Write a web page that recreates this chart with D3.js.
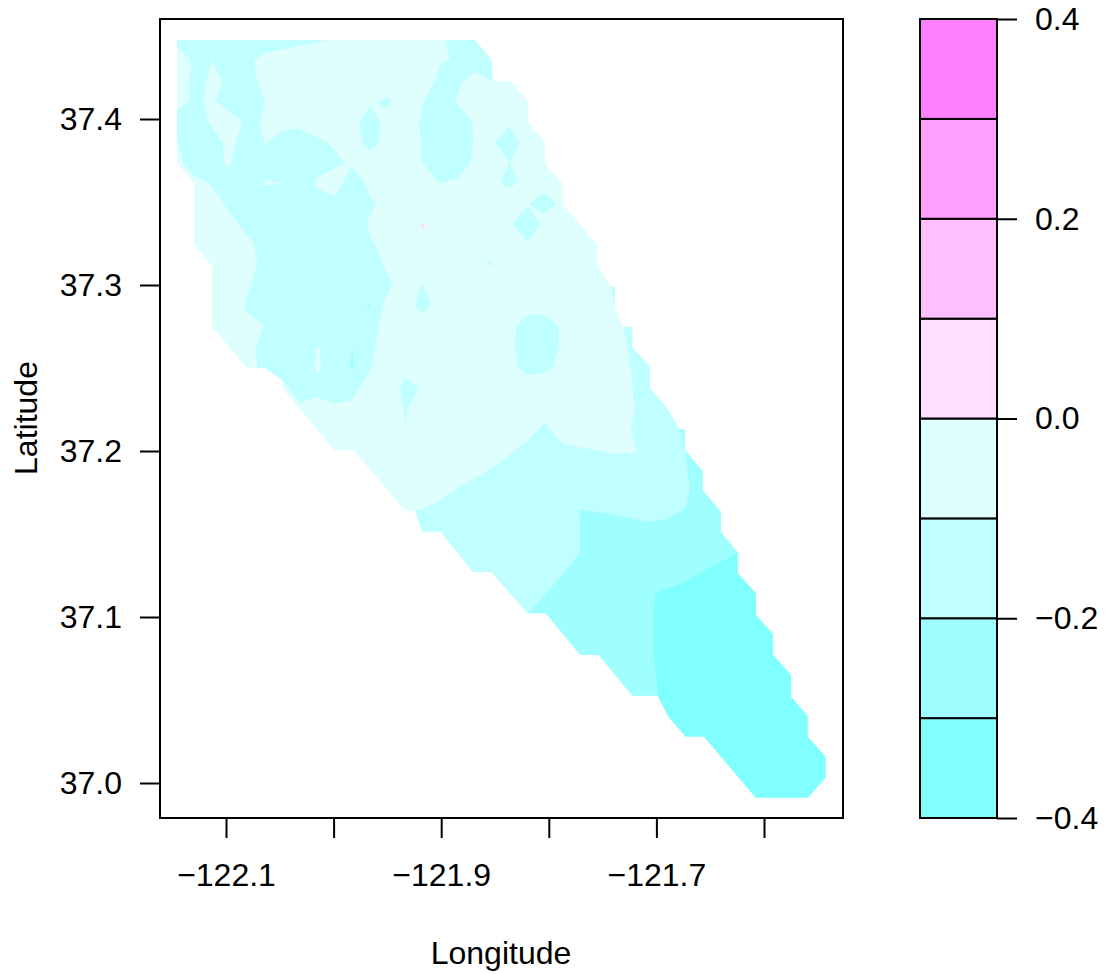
<!DOCTYPE html>
<html>
<head>
<meta charset="utf-8">
<title>Contour</title>
<script src="https://cdn.jsdelivr.net/npm/d3@7"></script>
<style>
  html, body { margin: 0; padding: 0; background: #fff; }
  svg { display: block; }
  text { font-family: "Liberation Sans", Arial, sans-serif; fill: #000; }
</style>
</head>
<body>
<div id="chart"></div>
<script>
// colour bands of the legend, low to high
const breaks = [-0.4, -0.3, -0.2, -0.1, 0, 0.1, 0.2, 0.3, 0.4];
const bandColors = ["#80ffff", "#9fffff", "#bfffff", "#dfffff", "#ffdfff", "#ffbfff", "#ff9fff", "#ff80ff"];
const legendTicks = [-0.4, -0.2, 0, 0.2, 0.4];
const lonTicks = [-122.1, -122.0, -121.9, -121.8, -121.7, -121.6];
const lonLabels = [-122.1, -121.9, -121.7];
const latTicks = [37.0, 37.1, 37.2, 37.3, 37.4];

// region outline, band -0.1..0
const outlineBand = [[-122.1455,37.4476],[-121.8686,37.4476],[-121.8531,37.4355],[-121.8521,37.4231],[-121.8361,37.4231],[-121.8196,37.4108],[-121.819,37.3978],[-121.8035,37.386],[-121.8035,37.3733],[-121.7875,37.3613],[-121.7865,37.3482],[-121.7546,37.3241],[-121.7546,37.312],[-121.7425,37.299],[-121.7385,37.299],[-121.7385,37.2869],[-121.7313,37.2749],[-121.7224,37.2749],[-121.7224,37.2625],[-121.7059,37.2504],[-121.7059,37.2378],[-121.6899,37.2257],[-121.6787,37.2131],[-121.6734,37.2131],[-121.6734,37.2006],[-121.657,37.1881],[-121.657,37.1765],[-121.64,37.1634],[-121.64,37.151],[-121.6244,37.139],[-121.6244,37.1263],[-121.6074,37.1143],[-121.6074,37.1012],[-121.5916,37.0898],[-121.5916,37.0771],[-121.5749,37.0651],[-121.5749,37.052],[-121.5594,37.0404],[-121.5594,37.0279],[-121.5427,37.0158],[-121.5427,37.0032],[-121.5594,36.9911],[-121.6077,36.9911],[-121.6558,37.0279],[-121.6728,37.0279],[-121.6889,37.0399],[-121.6988,37.0526],[-121.7224,37.0526],[-121.7536,37.0771],[-121.7707,37.0771],[-121.8029,37.1022],[-121.82,37.1022],[-121.8361,37.1143],[-121.8532,37.1271],[-121.8704,37.1271],[-121.9005,37.1514],[-121.9176,37.1514],[-121.9244,37.164],[-121.9336,37.164],[-121.9817,37.2006],[-121.9994,37.2006],[-122.0477,37.2378],[-122.0477,37.2428],[-122.0638,37.2502],[-122.0808,37.2502],[-122.113,37.2749],[-122.113,37.311],[-122.1297,37.3247],[-122.1297,37.3616],[-122.1455,37.3733]];

// band -0.2..-0.1
const northWest = [[-122.1455,37.4476],[-122.0049,37.4476],[-122.0638,37.4399],[-122.0737,37.4351],[-122.0715,37.4245],[-122.0638,37.4104],[-122.0691,37.3984],[-122.0638,37.3843],[-122.0473,37.393],[-122.0328,37.3942],[-122.0096,37.3873],[-122.0018,37.3833],[-121.9894,37.3733],[-122.0166,37.3643],[-122.0173,37.3602],[-122.0151,37.3583],[-121.9987,37.3536],[-121.9832,37.3713],[-121.9717,37.3619],[-121.9662,37.3532],[-121.9609,37.3492],[-121.9678,37.3402],[-121.9687,37.3351],[-121.9631,37.3261],[-121.9476,37.303],[-121.9451,37.3],[-121.9497,37.296],[-121.9544,37.288],[-121.9631,37.2568],[-121.9646,37.2502],[-121.9832,37.2307],[-121.9994,37.2283],[-122.0157,37.2327],[-122.0312,37.2291],[-122.0477,37.2428],[-122.0638,37.2502],[-122.0709,37.2502],[-122.0724,37.2625],[-122.0647,37.2753],[-122.0802,37.2839],[-122.0823,37.288],[-122.0709,37.312],[-122.074,37.3247],[-122.0979,37.3452],[-122.1155,37.3613],[-122.1288,37.3652],[-122.1397,37.3729],[-122.1455,37.3884],[-122.1455,37.4054],[-122.1341,37.4108],[-122.1328,37.4351],[-122.1455,37.444]];
const northEast = [[-121.8958,37.4476],[-121.8918,37.4355],[-121.9011,37.4325],[-121.9058,37.4235],[-121.916,37.4104],[-121.9204,37.3984],[-121.9176,37.3737],[-121.9011,37.3613],[-121.885,37.3643],[-121.8726,37.3737],[-121.8702,37.3863],[-121.8711,37.3984],[-121.8872,37.4108],[-121.8804,37.4225],[-121.8686,37.4285],[-121.8521,37.4231],[-121.8531,37.4355],[-121.8686,37.4476]];
const south = [[-121.9244,37.164],[-121.9181,37.1649],[-121.9005,37.1705],[-121.8841,37.1779],[-121.8553,37.1886],[-121.8298,37.201],[-121.8196,37.2066],[-121.8035,37.2173],[-121.7958,37.2107],[-121.7871,37.2042],[-121.7401,37.1986],[-121.7215,37.1986],[-121.719,37.2006],[-121.7236,37.2127],[-121.7205,37.2257],[-121.7224,37.2428],[-121.7267,37.2619],[-121.7313,37.2749],[-121.7224,37.2749],[-121.7224,37.2625],[-121.7059,37.2504],[-121.7059,37.2378],[-121.6899,37.2257],[-121.6787,37.2131],[-121.6734,37.2006],[-121.6688,37.1765],[-121.6734,37.1655],[-121.6889,37.1595],[-121.7059,37.1574],[-121.754,37.1634],[-121.7717,37.1649],[-121.771,37.139],[-121.7875,37.1253],[-121.819,37.1022],[-121.82,37.1022],[-121.8361,37.1143],[-121.8532,37.1271],[-121.8704,37.1271],[-121.9005,37.1514],[-121.9176,37.1514]];
const eastSliver = [[-121.7425,37.299],[-121.7385,37.299],[-121.7385,37.2869]];
const isleA = [[-121.9655,37.408],[-121.9569,37.3984],[-121.9575,37.3857],[-121.9662,37.3807],[-121.9739,37.3863],[-121.9755,37.3984]];
const isleB = [[-121.9599,37.4104],[-121.9501,37.4134],[-121.9464,37.4104],[-121.9507,37.406]];
const isleC = [[-121.8367,37.3954],[-121.8268,37.3857],[-121.8361,37.3743],[-121.8289,37.3616],[-121.8367,37.3583],[-121.8444,37.3613],[-121.8367,37.3743],[-121.85,37.3857]];
const isleD = [[-121.8042,37.3556],[-121.7933,37.3492],[-121.8042,37.3426],[-121.8181,37.3486]];
const isleE = [[-121.8196,37.348],[-121.8082,37.3367],[-121.8196,37.3261],[-121.8339,37.3367]];
const isleF = [[-121.854,37.3155],[-121.8519,37.311],[-121.8562,37.3125]];
const isleG = [[-121.8702,37.3492],[-121.8665,37.3492],[-121.8683,37.3482]];
const isleH = [[-121.9181,37.3014],[-121.9095,37.288],[-121.9176,37.283],[-121.9244,37.288]];
const isleI = [[-121.9336,37.2448],[-121.9206,37.2378],[-121.9315,37.2257],[-121.933,37.2116],[-121.9346,37.2257],[-121.9383,37.2378]];
const isleJ = [[-121.8196,37.2819],[-121.8035,37.2819],[-121.7905,37.2749],[-121.7905,37.2625],[-121.7964,37.2508],[-121.8045,37.2468],[-121.82,37.2456],[-121.8284,37.2508],[-121.8314,37.2625],[-121.8305,37.2749]];

// band -0.1..0, holes inside northWest
const finger = [[-122.1133,37.4351],[-122.1025,37.4229],[-122.1093,37.4108],[-122.0849,37.3984],[-122.0907,37.3863],[-122.0972,37.3693],[-122.1019,37.3743],[-122.1031,37.386],[-122.1164,37.3984],[-122.1211,37.4104],[-122.1189,37.4215]];
const holeSmall = [[-122.0647,37.3637],[-122.0482,37.3613],[-122.0638,37.3598],[-122.0659,37.3619]];
const holeSouth = [[-122.0157,37.2625],[-122.0126,37.2625],[-122.0117,37.2508],[-122.0151,37.2458],[-122.0173,37.2508]];

// band -0.3..-0.2
const southEast = [[-121.6787,37.2131],[-121.6734,37.2131],[-121.6734,37.2006],[-121.657,37.1881],[-121.657,37.1765],[-121.64,37.1634],[-121.64,37.151],[-121.6244,37.139],[-121.6579,37.1273],[-121.6734,37.1213],[-121.6904,37.1173],[-121.7013,37.1143],[-121.7029,37.1022],[-121.7029,37.0801],[-121.6988,37.0526],[-121.7224,37.0526],[-121.7536,37.0771],[-121.7707,37.0771],[-121.8029,37.1022],[-121.819,37.1022],[-121.7875,37.1253],[-121.771,37.139],[-121.7717,37.1649],[-121.754,37.1634],[-121.7059,37.1574],[-121.6889,37.1595],[-121.6734,37.1655],[-121.6688,37.1765],[-121.6734,37.2006]];
const speckA = [[-121.9826,37.2619],[-121.981,37.2508],[-121.9826,37.2488],[-121.9848,37.2508]];
const speckB = [[-121.9678,37.2892],[-121.9662,37.2875],[-121.9678,37.2861],[-121.9694,37.2875]];

// band -0.4..-0.3
const southTip = [[-121.6244,37.139],[-121.6244,37.1263],[-121.6074,37.1143],[-121.6074,37.1012],[-121.5916,37.0898],[-121.5916,37.0771],[-121.5749,37.0651],[-121.5749,37.052],[-121.5594,37.0404],[-121.5594,37.0279],[-121.5427,37.0158],[-121.5427,37.0032],[-121.5594,36.9911],[-121.6077,36.9911],[-121.6558,37.0279],[-121.6728,37.0279],[-121.6889,37.0399],[-121.6988,37.0526],[-121.7029,37.0801],[-121.7029,37.1022],[-121.7013,37.1143],[-121.6904,37.1173],[-121.6734,37.1213],[-121.6579,37.1273]];

// band 0..0.1
const pinkSpot = [[-121.9172,37.3378],[-121.9141,37.3361],[-121.9172,37.3331],[-121.9197,37.3361]];

// painted in this order, each with the middle value of its band
const layers = [
  {z: -0.05, shapes: [outlineBand]},
  {z: -0.15, shapes: [northWest, northEast, south, eastSliver, isleA, isleB, isleC, isleD, isleE, isleF, isleG, isleH, isleI, isleJ]},
  {z: -0.05, shapes: [finger, holeSmall, holeSouth]},
  {z: -0.25, shapes: [southEast, speckA, speckB]},
  {z: -0.35, shapes: [southTip]},
  {z: 0.05, shapes: [pinkSpot]}
];

const width = 1106, height = 974;
const plot = {left: 160, right: 843, top: 19, bottom: 818};
const key = {left: 920, right: 997, top: 19, bottom: 818};
const lineW = 2, tickLen = 20, fontPx = 32;

const x = d3.scaleLinear().domain([-122.1, -121.6]).range([226, 764]);
const y = d3.scaleLinear().domain([37.0, 37.4]).range([783, 119]);
const keyY = d3.scaleLinear().domain([-0.4, 0.4]).range([key.bottom, key.top]);
const color = d3.scaleThreshold().domain(breaks.slice(1, -1)).range(bandColors);

const svg = d3.select("#chart").append("svg")
  .attr("width", width)
  .attr("height", height);

const line = d3.line().x(d => x(d[0])).y(d => y(d[1]));

layers.forEach(function (layer) {
  svg.append("g").selectAll("path")
    .data(layer.shapes)
    .enter()
    .append("path")
    .attr("d", d => line(d) + "Z")
    .attr("fill", color(layer.z));
});

// frame
svg.append("rect")
  .attr("x", plot.left)
  .attr("y", plot.top)
  .attr("width", plot.right - plot.left)
  .attr("height", plot.bottom - plot.top)
  .attr("fill", "none")
  .attr("stroke", "#000")
  .attr("stroke-width", lineW);

function styleAxis(g) {
  g.select(".domain").remove();
  g.selectAll("line").attr("stroke", "#000").attr("stroke-width", lineW);
  g.selectAll("text").attr("font-size", fontPx).attr("font-family", '"Liberation Sans", Arial, sans-serif');
}

const xAxis = d3.axisBottom(x)
  .tickValues(lonTicks)
  .tickSize(tickLen)
  .tickPadding(25)
  .tickFormat(d => lonLabels.some(v => Math.abs(v - d) < 1e-6) ? d3.format(".1f")(d) : "");
svg.append("g")
  .attr("transform", "translate(0," + plot.bottom + ")")
  .call(xAxis)
  .call(styleAxis);

const yAxis = d3.axisLeft(y)
  .tickValues(latTicks)
  .tickSize(tickLen)
  .tickPadding(18)
  .tickFormat(d3.format(".1f"));
svg.append("g")
  .attr("transform", "translate(" + plot.left + ",0)")
  .call(yAxis)
  .call(styleAxis);

// legend
svg.append("g").selectAll("rect")
  .data(bandColors)
  .enter()
  .append("rect")
  .attr("x", key.left)
  .attr("y", (d, i) => keyY(breaks[i + 1]))
  .attr("width", key.right - key.left)
  .attr("height", (d, i) => keyY(breaks[i]) - keyY(breaks[i + 1]))
  .attr("fill", d => d)
  .attr("stroke", "#000")
  .attr("stroke-width", lineW);

const keyAxis = d3.axisRight(keyY)
  .tickValues(legendTicks)
  .tickSize(tickLen)
  .tickPadding(18)
  .tickFormat(d3.format(".1f"));
svg.append("g")
  .attr("transform", "translate(" + key.right + ",0)")
  .call(keyAxis)
  .call(styleAxis);

svg.append("text")
  .attr("x", 501)
  .attr("y", 964)
  .attr("text-anchor", "middle")
  .attr("font-size", fontPx)
  .text("Longitude");

svg.append("text")
  .attr("transform", "translate(37,418) rotate(-90)")
  .attr("text-anchor", "middle")
  .attr("font-size", fontPx)
  .text("Latitude");
</script>
</body>
</html>
